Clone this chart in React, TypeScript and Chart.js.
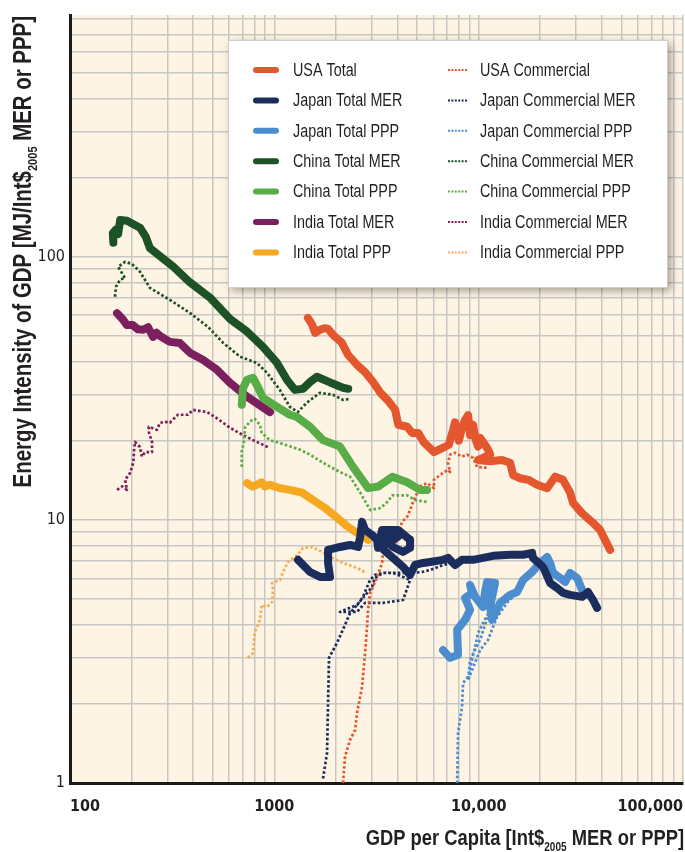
import React, { useEffect, useRef } from "react";
import { Chart, registerables } from "chart.js";

Chart.register(...registerables);

// ---------- axis ticks ----------
const X_TICK_VALUES = [100, 1000, 10000, 100000];
const X_TICK_LABELS = ["100", "1000", "10,000", "100,000"];
const Y_TICK_VALUES = [1, 10, 100];
const Y_TICK_LABELS = ["1", "10", "100"];
const X_RANGE = [100, 100000];
const Y_RANGE = [1, 830];

// ---------- series (GDP per capita, energy intensity) ----------
const usaTotal: [number, number][] = [
  [1459, 58.6], [1534, 55.1], [1583, 51.4], [1670, 52.8], [1760, 53.5], [1834, 53.2], [1935, 50.5],
  [2141, 47.1], [2296, 42.4], [2535, 38.9], [2776, 36.5], [3036, 33.5], [3306, 30.4], [3573, 28.6],
  [3903, 26.2], [4041, 23], [4468, 22.6], [4728, 21.4], [5068, 21.4], [5369, 19.8], [6040, 18.1],
  [6786, 18.9], [7142, 19.3], [7500, 22], [7663, 23.5], [8000, 20], [8300, 22.5], [8580, 24],
  [8875, 25], [9077, 21], [9400, 23], [9603, 20.5], [9932, 19], [10160, 20.5], [10740, 19.3],
  [11120, 18.5], [11370, 17.8], [10500, 17.2], [9932, 16.9], [11370, 16.7], [13000, 16.9],
  [14250, 16.5], [14740, 14.8], [15950, 14.4], [17500, 14.2], [19320, 13.6], [21630, 13.2],
  [23660, 14.6], [25880, 14.2], [28030, 12.7], [28970, 11.6], [32070, 10.6], [36310, 9.74],
  [39270, 9.16], [43970, 7.69],
];
const japanTotalMER: [number, number][] = [
  [1306, 7.05], [1495, 6.34], [1674, 6.07], [1874, 6.07], [1832, 6.86], [1832, 7.69], [2095, 7.89],
  [2347, 8.03], [2569, 7.89], [2631, 8.62], [2688, 9.83], [2780, 9.16], [3008, 8.77], [3182, 8.4],
  [3218, 7.83], [3367, 9.16], [4031, 9.16], [4616, 8.4], [4616, 7.83], [4266, 7.56], [3811, 7.89],
  [3573, 8.25], [3573, 8.77], [4031, 8.62], [3306, 7.89], [3811, 7.17], [4266, 6.63], [4616, 6.18],
  [4884, 6.74], [5345, 6.86], [5781, 6.92], [6694, 7.05], [7082, 7.17], [7663, 6.74], [8293, 7.05],
  [9389, 7.05], [11764, 7.3], [14250, 7.37], [16495, 7.37], [18250, 7.49], [18460, 7.17],
  [20670, 6.63], [22370, 5.76], [24190, 5.51], [25890, 5.28], [28030, 5.19], [32070, 5.1],
  [34310, 5.32], [36310, 4.96], [37970, 4.63],
];
const japanTotalPPP: [number, number][] = [
  [6694, 3.2], [7244, 2.99], [7927, 3.07], [7844, 3.82], [8579, 4.17], [9077, 4.55], [8579, 5.05],
  [9283, 5.28], [9077, 5.66], [9603, 5.1], [10510, 4.67], [10740, 5.32], [10990, 5.81], [12030, 5.76],
  [11630, 5.1], [11370, 4.67], [11630, 4.17], [12720, 4.84], [14250, 5.19], [15420, 5.32],
  [16495, 5.91], [18250, 6.34], [19980, 6.86], [21630, 7.23], [22370, 6.86], [23130, 6.29],
  [25030, 6.02], [26480, 5.81], [28030, 6.29], [30310, 6.02], [32070, 5.42],
];
const chinaTotalMER: [number, number][] = [
  [163, 113], [162, 123], [168, 127], [172, 122], [176, 138], [190, 137], [220, 129], [235, 119],
  [246, 108], [319, 92], [386, 80], [484, 70], [607, 58], [735, 52], [880, 45.5], [1031, 39.5],
  [1154, 34], [1262, 31.2], [1380, 31.5], [1500, 33.5], [1617, 35], [1874, 33.3], [2168, 31.8],
  [2300, 31.5],
];
const chinaTotalPPP: [number, number][] = [
  [693, 27.4], [700, 31], [707, 32], [735, 34.1], [786, 34.7], [831, 32], [880, 29.1], [1031, 26.9],
  [1191, 25.1], [1290, 24.6], [1495, 22.6], [1730, 20.1], [2095, 19], [2427, 15.9], [2879, 13.2],
  [3228, 13.4], [3782, 14.6], [4468, 13.9], [5163, 13], [5589, 13],
];
const indiaTotalMER: [number, number][] = [
  [170, 61], [182, 57.6], [190, 55], [203, 55], [215, 53], [228, 52.8], [241, 54], [255, 49.6],
  [265, 51.4], [276, 50], [308, 47.5], [345, 47], [386, 43.2], [447, 40.6], [524, 37.2], [607, 33.2],
  [735, 29.4], [952, 25.7],
];
const indiaTotalPPP: [number, number][] = [
  [735, 13.8], [780, 13.4], [822, 13.6], [868, 13.9], [900, 13.4], [952, 13.6], [1064, 13.2],
  [1191, 13], [1367, 12.7], [1546, 11.9], [1769, 11.1], [2025, 10.2], [2296, 9.4], [2631, 8.77],
  [2879, 8.4],
];
const usaCommercial: [number, number][] = [
  [2169, 1], [2218, 1.26], [2348, 1.46], [2485, 1.59], [2540, 1.85], [2688, 2.32], [2780, 3.12],
  [2843, 3.92], [2875, 4.55], [2940, 5.28], [3041, 5.56], [3182, 6.07], [3367, 6.86], [3405, 7.49],
  [3561, 7.89], [3684, 8.4], [3903, 8.03], [4031, 8.77], [4217, 9.83], [4468, 10.27], [4616, 10.9],
  [4776, 11.7], [5163, 13.4], [5589, 13.8], [6040, 13.2], [6040, 14.2], [6694, 15.1], [7082, 15.5],
  [7244, 15.2], [7082, 16.5], [7244, 17.7], [7663, 18], [8293, 17.4], [8773, 17.7], [9389, 17.2],
  [9822, 15.9], [10740, 15.8], [11120, 15.8],
];
const japanCommercialMER: [number, number][] = [
  [1731, 1.04], [1811, 1.3], [1832, 2.01], [1852, 2.99], [2027, 3.41], [2218, 3.99], [2348, 4.43],
  [2540, 4.75], [2718, 5.1], [2843, 5.56], [2940, 5.91], [3111, 6.18], [3405, 6.29], [3811, 6.29],
  [4266, 6.07], [4616, 5.91], [4266, 4.96], [3405, 4.84], [2780, 4.84], [2540, 4.47], [2095, 4.47],
  [2540, 4.75], [3008, 5.56], [3111, 6.02], [3405, 6.29], [4266, 6.29], [4776, 6.29], [5284, 6.34],
  [5781, 6.45], [6694, 6.74], [7493, 6.86],
];
const japanCommercialPPP: [number, number][] = [
  [7844, 1], [7927, 1.55], [8293, 1.95], [8387, 2.4], [8875, 2.53], [9283, 2.94], [9603, 3.29],
  [9932, 3.72], [10510, 4.06], [11370, 4.55], [10160, 3.5], [9077, 2.94], [8875, 2.46], [10160, 3.2],
  [11120, 3.5], [11760, 3.92], [12300, 4.28], [13770, 4.84], [15070, 5.19], [17850, 6.18],
  [19980, 6.74],
];
const chinaCommercialMER: [number, number][] = [
  [166, 70.5], [168, 77], [176, 82], [186, 83], [172, 91.6], [186, 95.7], [201, 94], [220, 87.7],
  [246, 76.2], [308, 68.6], [386, 61.2], [473, 54.2], [561, 47.1], [680, 41.7], [822, 39.5],
  [922, 36.2], [1064, 31.2], [1191, 26.9], [1302, 25.7], [1442, 27.9], [1670, 30.4], [1935, 29.9],
  [2168, 28.6], [2347, 28.8],
];
const chinaCommercialPPP: [number, number][] = [
  [693, 15.9], [693, 18.5], [707, 19.3], [720, 22.6], [786, 24.2], [802, 24.2], [850, 23],
  [868, 21.4], [952, 20.1], [1064, 19.6], [1334, 18.5], [1495, 17.7], [1730, 16.5], [2095, 15.2],
  [2347, 14.6], [2631, 12.7], [2949, 10.9], [3306, 11.1], [3573, 11.7], [3782, 12.4], [4468, 12.4],
  [4885, 11.9], [5589, 11.7],
];
const indiaCommercialMER: [number, number][] = [
  [170, 13], [180, 13.4], [190, 13], [186, 14.2], [197, 15.1], [204, 16.5], [206, 18.5], [208, 19.8],
  [220, 18.9], [225, 17.4], [233, 18.1], [252, 18.1], [252, 19.8], [243, 21.6], [243, 22.6],
  [266, 22], [276, 23.4], [292, 23.6], [308, 23.4], [337, 25.1], [378, 25.1], [400, 26.2],
  [468, 25.7], [512, 24.6], [561, 23.4], [607, 22.4], [703, 21], [787, 20.1], [932, 18.9],
];
const indiaCommercialPPP: [number, number][] = [
  [742, 3], [770, 3.05], [786, 3.12], [802, 3.72], [850, 4.17], [868, 4.75], [922, 4.67], [976, 4.88],
  [985, 5.42], [976, 5.76], [1064, 5.91], [1127, 6.57], [1166, 6.92], [1262, 7.23], [1334, 7.56],
  [1380, 7.83], [1529, 7.89], [1713, 7.56], [1874, 7.23], [2168, 6.86], [2535, 6.57], [2817, 6.29],
];

const SERIES = [
  { label: "USA Total", data: usaTotal, color: "#e4572e", dotted: false },
  { label: "Japan Total MER", data: japanTotalMER, color: "#1b2d5c", dotted: false },
  { label: "Japan Total PPP", data: japanTotalPPP, color: "#4b8dcf", dotted: false },
  { label: "China Total MER", data: chinaTotalMER, color: "#1c5226", dotted: false },
  { label: "China Total PPP", data: chinaTotalPPP, color: "#58ad46", dotted: false },
  { label: "India Total MER", data: indiaTotalMER, color: "#7b1f5f", dotted: false },
  { label: "India Total PPP", data: indiaTotalPPP, color: "#f6a821", dotted: false },
  { label: "USA Commercial", data: usaCommercial, color: "#e4572e", dotted: true },
  { label: "Japan Commercial MER", data: japanCommercialMER, color: "#1b2d5c", dotted: true },
  { label: "Japan Commercial PPP", data: japanCommercialPPP, color: "#4b8dcf", dotted: true },
  { label: "China Commercial MER", data: chinaCommercialMER, color: "#1c5226", dotted: true },
  { label: "China Commercial PPP", data: chinaCommercialPPP, color: "#58ad46", dotted: true },
  { label: "India Commercial MER", data: indiaCommercialMER, color: "#7b1f5f", dotted: true },
  { label: "India Commercial PPP", data: indiaCommercialPPP, color: "#f7ac55", dotted: true },
];

const SANS = '"Liberation Sans", Arial, sans-serif';
const COND = '"DejaVu Sans Condensed", "Liberation Sans", sans-serif';
const NARROW_SCALE = 0.82;
const TEXT = "#231f20";

function isNiceTick(v: number) {
  const m = v / Math.pow(10, Math.floor(Math.log10(v) + 1e-9));
  return Math.abs(m - Math.round(m)) < 1e-6;
}
function labelFor(values: number[], labels: string[], v: number) {
  const i = values.findIndex((t) => Math.abs(t - v) / t < 1e-6);
  return i >= 0 ? labels[i] : "";
}

type Part = { text: string; sub?: boolean };
// narrow text: a regular sans squeezed horizontally
function richText(ctx: CanvasRenderingContext2D, parts: Part[], size: number, subSize: number, weight: string) {
  const fontOf = (p: Part) => `${weight} ${p.sub ? subSize : size}px ${SANS}`;
  const widths = parts.map((p) => {
    ctx.font = fontOf(p);
    return ctx.measureText(p.text).width * NARROW_SCALE;
  });
  return {
    width: widths.reduce((a, b) => a + b, 0),
    draw(x: number, y: number) {
      let cx = x;
      parts.forEach((p, i) => {
        ctx.save();
        ctx.font = fontOf(p);
        ctx.translate(cx, p.sub ? y + size * 0.25 : y);
        ctx.scale(NARROW_SCALE, 1);
        ctx.fillText(p.text, 0, 0);
        ctx.restore();
        cx += widths[i];
      });
    },
  };
}

const bgPlugin = {
  id: "bgPlugin",
  beforeDraw(chart: any) {
    const { ctx, chartArea } = chart;
    ctx.save();
    ctx.fillStyle = "#ffffff";
    ctx.fillRect(0, 0, chart.width, chart.height);
    ctx.fillStyle = "#fdf4e3";
    ctx.fillRect(chartArea.left, chartArea.top, chartArea.right - chartArea.left, chartArea.bottom - chartArea.top);
    ctx.restore();
  },
};

const decorPlugin = {
  id: "decorPlugin",
  afterDraw(chart: any) {
    const { ctx, chartArea } = chart;
    ctx.save();
    ctx.fillStyle = TEXT;
    ctx.textAlign = "left";
    ctx.textBaseline = "alphabetic";

    // x-axis title
    const xt = richText(ctx, [
      { text: "GDP per Capita [Int$" },
      { text: "2005", sub: true },
      { text: " MER or PPP]" },
    ], 22.4, 12.3, "bold");
    xt.draw(chartArea.right + 1 - xt.width, chart.height - 7);

    // y-axis title
    const yt = richText(ctx, [
      { text: "Energy Intensity of GDP [MJ/Int$" },
      { text: "2005", sub: true },
      { text: " MER or PPP]" },
    ], 24.9, 13.5, "bold");
    ctx.save();
    ctx.translate(31, chartArea.top + 1 + yt.width);
    ctx.rotate(-Math.PI / 2);
    yt.draw(0, 0);
    ctx.restore();

    // legend box
    const bx = chartArea.left + 158, by = chartArea.top + 25, bw = 440, bh = 248;
    ctx.save();
    ctx.shadowColor = "rgba(0,0,0,0.35)";
    ctx.shadowBlur = 8;
    ctx.shadowOffsetX = 3;
    ctx.shadowOffsetY = 3;
    ctx.fillStyle = "#ffffff";
    ctx.fillRect(bx, by, bw, bh);
    ctx.restore();
    ctx.strokeStyle = "#cfcfcf";
    ctx.lineWidth = 1;
    ctx.strokeRect(bx + 0.5, by + 0.5, bw - 1, bh - 1);

    const datasets = chart.data.datasets;
    const half = Math.ceil(datasets.length / 2);
    ctx.textBaseline = "middle";
    datasets.forEach((ds: any, i: number) => {
      const col = i < half ? 0 : 1;
      const row = i < half ? i : i - half;
      const cy = by + 30 + row * 30.4;
      const sx = col === 0 ? bx + 28 : bx + 220;
      const sw = col === 0 ? 20 : 19;
      ctx.save();
      ctx.strokeStyle = ds.borderColor;
      if (col === 0) {
        ctx.lineWidth = 6;
        ctx.lineCap = "round";
      } else {
        ctx.lineWidth = 2;
        ctx.setLineDash([2, 1.4]);
      }
      ctx.beginPath();
      ctx.moveTo(sx, cy);
      ctx.lineTo(sx + sw, cy);
      ctx.stroke();
      ctx.restore();
      ctx.fillStyle = TEXT;
      const lt = richText(ctx, [{ text: ds.label }], 17.5, 10, "normal");
      lt.draw(col === 0 ? bx + 65 : bx + 252, cy + 1);
    });
    ctx.restore();
  },
};

export default function App() {
  const ref = useRef<HTMLCanvasElement | null>(null);

  useEffect(() => {
    document.body.style.margin = "0";
    document.body.style.overflow = "hidden";
    const canvas = ref.current;
    if (!canvas) return;

    const datasets = SERIES.map((s) => ({
      label: s.label,
      data: s.data.map(([x, y]) => ({ x, y })),
      showLine: true,
      borderColor: s.color,
      backgroundColor: s.color,
      borderWidth: s.dotted ? 2.7 : 8,
      borderDash: s.dotted ? [2.6, 2.2] : [],
      borderCapStyle: s.dotted ? "butt" : "round",
      borderJoinStyle: "round",
      pointRadius: 0,
      pointHoverRadius: 0,
      tension: 0,
    }));

    const chart = new Chart(canvas, {
      type: "scatter",
      data: { datasets } as any,
      options: {
        animation: false,
        responsive: false,
        maintainAspectRatio: false,
        events: [],
        layout: { padding: { top: 15, right: 2, left: 0, bottom: 0 } },
        plugins: { legend: { display: false }, tooltip: { enabled: false }, title: { display: false } },
        scales: {
          x: {
            type: "logarithmic",
            position: "bottom",
            min: X_RANGE[0],
            max: X_RANGE[1],
            afterBuildTicks: (s: any) => {
              s.ticks = s.ticks.filter((t: any) => isNiceTick(t.value));
            },
            afterFit: (s: any) => {
              s.height = 69;
            },
            grid: { color: "#c9c7c3", lineWidth: 1.5, drawTicks: true, tickLength: 14, tickColor: "rgba(0,0,0,0)" },
            border: { display: true, color: "#1a1a1a", width: 3 },
            ticks: {
              autoSkip: false,
              maxRotation: 0,
              minRotation: 0,
              align: "inner",
              padding: 0,
              color: TEXT,
              font: { family: COND, size: 16, weight: "bold" },
              callback: (v: any) => labelFor(X_TICK_VALUES, X_TICK_LABELS, Number(v)),
            },
          },
          y: {
            type: "logarithmic",
            position: "left",
            min: Y_RANGE[0],
            max: Y_RANGE[1],
            afterBuildTicks: (s: any) => {
              s.ticks = s.ticks.filter((t: any) => isNiceTick(t.value));
            },
            afterFit: (s: any) => {
              s.width = 70;
            },
            grid: { color: "#c9c7c3", lineWidth: 1.5, drawTicks: false },
            border: { display: true, color: "#1a1a1a", width: 3 },
            ticks: {
              autoSkip: false,
              padding: 5,
              color: TEXT,
              font: { family: COND, size: 16 },
              callback: (v: any) => labelFor(Y_TICK_VALUES, Y_TICK_LABELS, Number(v)),
            },
          },
        },
      } as any,
      plugins: [bgPlugin, decorPlugin],
    });

    return () => chart.destroy();
  }, []);

  return <canvas ref={ref} width={685} height={852} style={{ display: "block" }} />;
}
